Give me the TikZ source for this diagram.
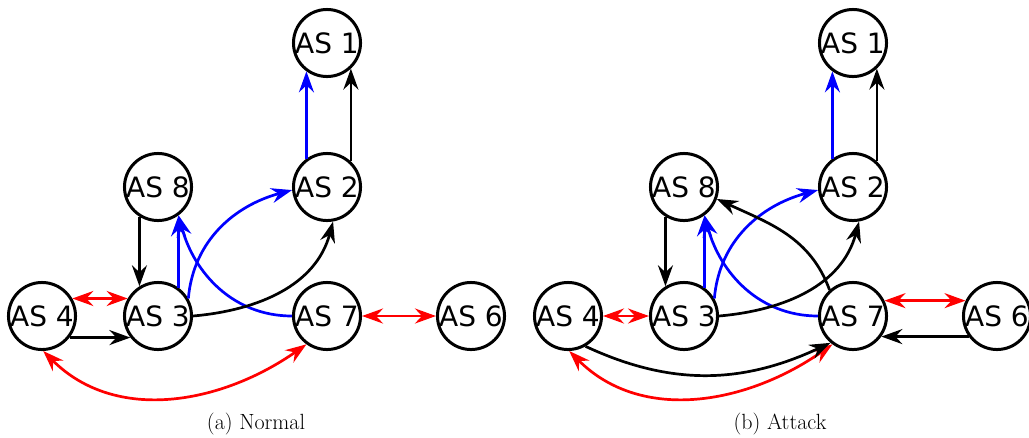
\documentclass[tikz,border=0pt]{standalone}
\usepackage{fontspec}
\newfontfamily\asfont{DejaVu Sans}
\usetikzlibrary{arrows.meta}

\begin{document}
\begin{tikzpicture}[x=1pt,y=-1pt,
    >={Stealth[length=21pt,width=15pt,inset=7pt]},
    asnode/.style={circle,draw,line width=3pt,minimum size=65pt,inner sep=0pt,
        font=\asfont\fontsize{28}{30}\selectfont},
    link/.style={line width=2.7pt,->},
    bluelink/.style={link,blue},
    redlink/.style={line width=2.7pt,<->,red},
    caption/.style={font=\fontsize{22}{26}\selectfont}]
    \useasboundingbox (0,0) rectangle (1029,437);

    % Place the AS nodes and the links both panels share
    \foreach \p/\dx in {a/0,b/526} {
        \foreach \n/\x/\y in {1/327/43, 2/327/187, 8/158/187, 3/158/316,
                              4/42/316, 7/327/316, 6/471/316} {
            \node[asnode] (\p\n) at (\x+\dx,\y) {AS \n};
        }
        \draw[bluelink] (\p2.126) -- (\p1.234);
        \draw[link] (\p2.47) -- (\p1.313);
        \draw[link] (\p8.238) -- (\p3.122);
        \draw[bluelink] (\p3.54) -- (\p8.306);
        \draw[bluelink] (\p7.west) to[out=180,in=-75] (\p8.306);
        \draw[bluelink] (\p3.30) to[out=85,in=195] (\p2.185);
        \draw[link] (\p3.east) to[out=5,in=-105] (\p2.280);
        \draw[redlink] (\p4.272) to[out=-45,in=215] (\p7.234);
    }

    % Normal
    \draw[redlink] (a4.30) -- (a3.150);
    \draw[link] (a4.-38) -- (a3.218);
    \draw[redlink] (a7.east) -- (a6.west);

    % Attack
    \draw[redlink] (b4.east) -- (b3.west);
    \draw[link] (b4.-60) to[out=-25,in=205] (b7.230);
    \draw[link] (b7.132) to[out=110,in=-25] (b8.340);
    \draw[redlink] (b7.26) -- (b6.154);
    \draw[link] (b6.216) -- (b7.324);

    % Captions
    \node[caption] (capa) at (256,424) {(a) Normal};
    \node[caption] (capb) at (780,424) {(b) Attack};
\end{tikzpicture}
\end{document}
